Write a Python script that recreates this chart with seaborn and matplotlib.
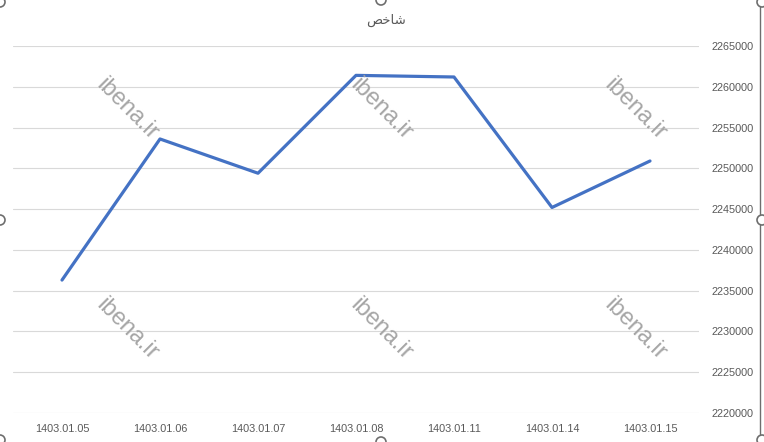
import matplotlib
matplotlib.use("Agg")
import matplotlib.pyplot as plt
import seaborn as sns
import pandas as pd
from matplotlib.patches import Circle

dates = ["1403.01.05", "1403.01.06", "1403.01.07", "1403.01.08",
         "1403.01.11", "1403.01.14", "1403.01.15"]
index_values = [2236300, 2253600, 2249400, 2261400, 2261200, 2245200, 2250900]
y_ticks = list(range(2220000, 2265001, 5000))
title = "\ufeba\ufea7\ufe8e\ufeb7"  # "شاخص" in shaped presentation forms, visual order

df = pd.DataFrame({"date": dates, "value": index_values})

sns.set_theme(style="white")
plt.rcParams["font.family"] = ["Liberation Sans", "DejaVu Sans"]

W, H = 764, 442
fig = plt.figure(figsize=(W / 100, H / 100), dpi=100)
ax = fig.add_axes([13 / W, 1 - 413 / H, (699 - 13) / W, (413 - 46) / H])

sns.lineplot(data=df, x="date", y="value", sort=False, color="#4472C4",
             linewidth=2.3, ax=ax)

ax.set_xlim(-0.5, len(dates) - 0.5)
ax.set_ylim(y_ticks[0], y_ticks[-1])
ax.set_yticks(y_ticks)
ax.set_yticklabels([str(v) for v in y_ticks])
ax.yaxis.tick_right()
ax.grid(axis="y", color="#d9d9d9", linewidth=0.8)
ax.grid(axis="x", visible=False)
ax.set_axisbelow(True)
for s in ax.spines.values():
    s.set_visible(False)
ax.tick_params(axis="y", length=0, pad=9, labelsize=7.8, labelcolor="#595959")
ax.tick_params(axis="x", length=0, pad=8, labelsize=7.8, labelcolor="#595959")
ax.set_xlabel("")
ax.set_ylabel("")

fig.text(386 / W, 1 - 20 / H, title, ha="center", va="center", fontsize=9.5,
         color="#595959", family=["DejaVu Sans"])

# watermark
for cx in (127, 381, 635):
    for cy in (109, 329):
        fig.text(cx / W, 1 - cy / H, "ibena.ir", rotation=-45, ha="center",
                 va="center", fontsize=17, color="#a6a6a6",
                 rotation_mode="anchor")

# selection frame and handles
fig.add_artist(plt.Line2D([760 / W, 760 / W], [0, 1], color="#6e6e6e",
                          linewidth=1.0))
for hx, hy in [(0, 2), (0, 220), (0, 440), (381, 0), (381, 442),
               (762, 2), (762, 220), (762, 440)]:
    fig.add_artist(Circle((hx, H - hy), 5, transform=None, facecolor="white",
                          edgecolor="#6e6e6e", linewidth=1.2, zorder=10))

fig.savefig("out.png", dpi=100, facecolor="white")
